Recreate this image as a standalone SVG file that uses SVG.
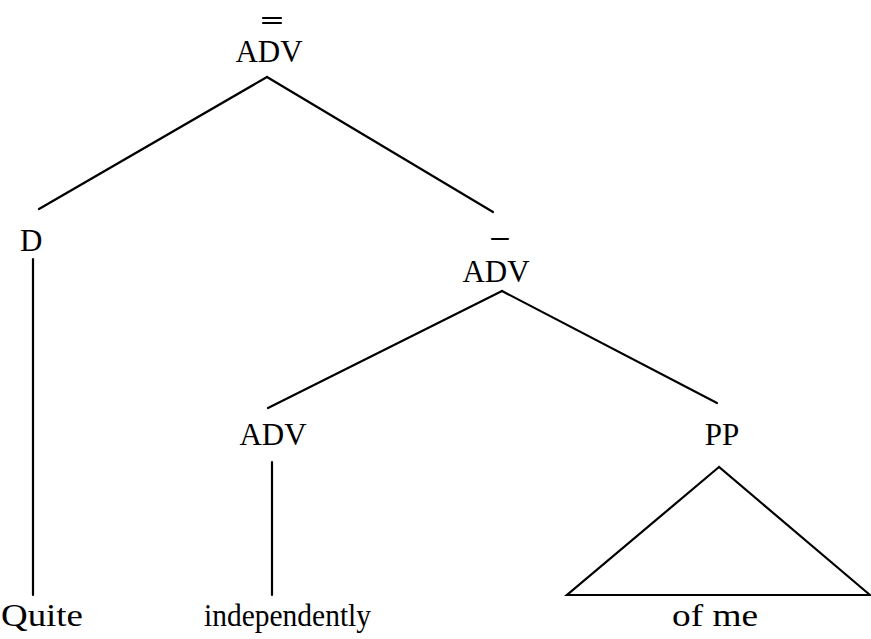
<svg xmlns="http://www.w3.org/2000/svg" width="871" height="639" viewBox="0 0 871 639">
<style>
.lbl{font-family:"Liberation Serif","Times New Roman",serif;font-size:31px;fill:#000;}
.lbl.m{text-anchor:middle;}
.word{font-family:"Liberation Serif","Times New Roman",serif;font-size:32px;fill:#000;}
.edge{stroke:#000;stroke-width:2.2;fill:none;stroke-linecap:round;}
</style>
<rect width="871" height="639" fill="#fff"/>
<g id="connectors">
<line class="edge" x1="267" y1="77" x2="39" y2="209"/>
<line class="edge" x1="267" y1="77" x2="493" y2="212"/>
<line class="edge" x1="502" y1="291" x2="268" y2="408"/>
<line class="edge" x1="502" y1="291" x2="717" y2="403"/>
<line class="edge" x1="33" y1="259" x2="33" y2="595"/>
<line class="edge" x1="272" y1="462" x2="272" y2="595"/>
<polygon class="edge" points="719,467 567,595 870,595"/>
</g>
<g id="node-adv-top">
<line class="edge" x1="263" y1="18" x2="281" y2="18"/>
<line class="edge" x1="263" y1="23" x2="281" y2="23"/>
<text class="lbl m" x="269" y="62">ADV</text>
</g>
<g id="node-d">
<text class="lbl" x="20" y="251">D</text>
</g>
<g id="node-adv-mid">
<line class="edge" x1="492" y1="239" x2="508" y2="239"/>
<text class="lbl m" x="496" y="282">ADV</text>
</g>
<g id="node-adv-low">
<text class="lbl m" x="273" y="445">ADV</text>
</g>
<g id="node-pp">
<text class="lbl m" x="722" y="445">PP</text>
</g>
<g id="node-quite">
<text class="word" x="1" y="626" textLength="82" lengthAdjust="spacingAndGlyphs">Quite</text>
</g>
<g id="node-independently">
<text class="word" x="204" y="626" textLength="167" lengthAdjust="spacingAndGlyphs">independently</text>
</g>
<g id="node-of-me">
<text class="word" x="672" y="626" textLength="86" lengthAdjust="spacingAndGlyphs">of me</text>
</g>
</svg>
